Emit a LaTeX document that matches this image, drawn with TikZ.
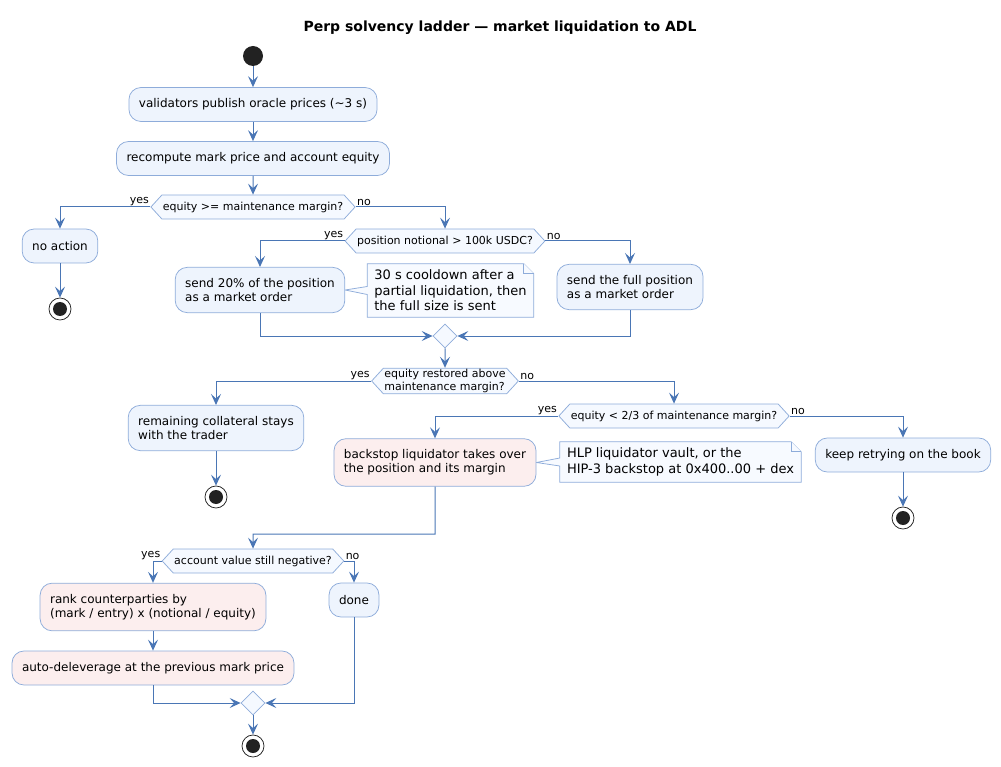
\documentclass[tikz,border=0pt]{standalone}
\usepackage{fontspec}
\setmainfont{DejaVu Sans}
\usepackage{tikz}
\usetikzlibrary{arrows.meta,shapes.geometric,shapes.symbols,backgrounds}

\definecolor{flowcol}{HTML}{4A76B5}
\definecolor{boxline}{HTML}{8EACDA}
\definecolor{boxfill}{HTML}{EEF4FD}
\definecolor{redfill}{HTML}{FCEEEE}
\definecolor{condfill}{HTML}{F5F9FF}
\definecolor{notefill}{HTML}{F7FAFF}
\definecolor{dotcol}{HTML}{222222}

\begin{document}
\begin{tikzpicture}[x=1pt,y=-1pt,
    titletext/.style={font=\fontsize{14}{16}\selectfont\bfseries},
    act/.style={rectangle, rounded corners=12pt, draw=boxline, fill=boxfill,
        line width=0.75pt, inner xsep=10pt, inner ysep=11pt, minimum height=34pt,
        align=left, font=\fontsize{12}{14}\selectfont},
    actred/.style={act, fill=redfill},
    cond/.style={shape=signal, signal to=west and east, signal pointer angle=95,
        draw=boxline, fill=condfill, line width=0.75pt, inner xsep=1pt,
        inner ysep=1pt, minimum height=24pt, align=left,
        font=\fontsize{11}{13}\selectfont},
    mergebox/.style={diamond, draw=boxline, fill=condfill, line width=0.75pt,
        minimum size=24pt, inner sep=0pt},
    notebox/.style={inner xsep=7pt, inner ysep=6pt, align=left,
        font=\fontsize{13}{15.5}\selectfont},
    noteline/.style={draw=boxline, fill=notefill, line width=0.75pt},
    startdot/.style={circle, fill=dotcol, minimum size=20pt, inner sep=0pt},
    stopdot/.style={circle, draw=dotcol, fill=white, line width=0.75pt,
        minimum size=22pt, inner sep=0pt,
        path picture={\fill[dotcol] (path picture bounding box.center) circle (7pt);}},
    flow/.style={draw=flowcol, line width=1pt,
        -{Stealth[length=11pt,width=10pt,inset=4.5pt]}},
    yeslbl/.style={font=\fontsize{11}{13}\selectfont, anchor=south east, inner sep=1pt},
    nolbl/.style={font=\fontsize{11}{13}\selectfont, anchor=south west, inner sep=1pt}]

    \useasboundingbox (0,0) rectangle (1001,767);

    % The title
    \node[titletext] (title) at (500,28) {Perp solvency ladder — market liquidation to ADL};

    % Top of the flow
    \node[startdot] (start) at (253,56) {};
    \node[act] (oracle) at (253,104.5) {validators publish oracle prices (\textasciitilde3 s)};
    \node[act] (mark) at (253,158.5) {recompute mark price and account equity};
    \node[cond] (maint) at (253,207) {equity >= maintenance margin?};

    % Healthy account
    \node[act] (noact) at (60,246) {no action};
    \node[stopdot] (stopA) at (60,309) {};

    % Market liquidation
    \node[cond] (size) at (445,241) {position notional > 100k USDC?};
    \node[act] (part) at (260,290) {send 20\% of the position\\as a market order};
    \node[notebox] (cool) at (450.5,290.5) {30 s cooldown after a\\partial liquidation, then\\the full size is sent};
    \node[act] (full) at (630,287) {send the full position\\as a market order};
    \node[mergebox] (joinA) at (445,336) {};

    % After the book
    \node[cond] (restored) at (445,381) {equity restored above\\maintenance margin?};
    \node[act] (keepcol) at (216,428) {remaining collateral stays\\with the trader};
    \node[stopdot] (stopB) at (216,497) {};

    % Backstop
    \node[cond] (third) at (674,416) {equity < 2/3 of maintenance margin?};
    \node[actred] (backstop) at (435,462.5) {backstop liquidator takes over\\the position and its margin};
    \node[notebox] (vault) at (680.5,462) {HLP liquidator vault, or the\\HIP-3 backstop at 0x400..00 + dex};
    \node[act] (retry) at (903,455) {keep retrying on the book};
    \node[stopdot] (stopC) at (903,518) {};

    % ADL
    \coordinate (turn) at (253,534);
    \node[cond] (neg) at (253,561) {account value still negative?};
    \node[actred] (rank) at (153,607) {rank counterparties by\\(mark / entry) x (notional / equity)};
    \node[actred] (adl) at (153,668) {auto-deleverage at the previous mark price};
    \node[act] (done) at (354,600) {done};
    \node[mergebox] (joinB) at (253,703) {};
    \node[stopdot] (stopD) at (253,746) {};

    % The notes
    \begin{scope}[on background layer]
        \draw[noteline] (cool.north west) -- ([xshift=-10pt]cool.north east)
            -- ([yshift=-10pt]cool.north east) -- (cool.south east)
            -- (cool.south west) -- ([yshift=-4pt]cool.west) -- (part.east)
            -- ([yshift=4pt]cool.west) -- cycle;
        \draw[noteline] ([xshift=-10pt]cool.north east) |- ([yshift=-10pt]cool.north east);
        \draw[noteline] (vault.north west) -- ([xshift=-10pt]vault.north east)
            -- ([yshift=-10pt]vault.north east) -- (vault.south east)
            -- (vault.south west) -- ([yshift=-4pt]vault.west) -- (backstop.east)
            -- ([yshift=4pt]vault.west) -- cycle;
        \draw[noteline] ([xshift=-10pt]vault.north east) |- ([yshift=-10pt]vault.north east);
    \end{scope}

    % Edges
    \draw[flow] (start) -- (oracle);
    \draw[flow] (oracle) -- (mark);
    \draw[flow] (mark) -- (maint);
    \draw[flow] (maint.west) node[yeslbl] (yA) {yes} -| (noact);
    \draw[flow] (noact) -- (stopA);
    \draw[flow] (maint.east) node[nolbl] (nA) {no} -| (size);
    \draw[flow] (size.west) node[yeslbl] (yB) {yes} -| (part);
    \draw[flow] (size.east) node[nolbl] (nB) {no} -| (full);
    \draw[flow] (part.south) |- (joinA.west);
    \draw[flow] (full.south) |- (joinA.east);
    \draw[flow] (joinA) -- (restored);
    \draw[flow] (restored.west) node[yeslbl] (yC) {yes} -| (keepcol);
    \draw[flow] (keepcol) -- (stopB);
    \draw[flow] (restored.east) node[nolbl] (nC) {no} -| (third);
    \draw[flow] (third.west) node[yeslbl] (yD) {yes} -| (backstop);
    \draw[flow] (third.east) node[nolbl] (nD) {no} -| (retry);
    \draw[flow] (retry) -- (stopC);
    \draw[flow] (backstop.south) |- (turn) -- (neg);
    \draw[flow] (neg.west) node[yeslbl] (yE) {yes} -| (rank);
    \draw[flow] (neg.east) node[nolbl] (nE) {no} -| (done);
    \draw[flow] (rank) -- (adl);
    \draw[flow] (adl.south) |- (joinB.west);
    \draw[flow] (done.south) |- (joinB.east);
    \draw[flow] (joinB) -- (stopD);
\end{tikzpicture}
\end{document}
